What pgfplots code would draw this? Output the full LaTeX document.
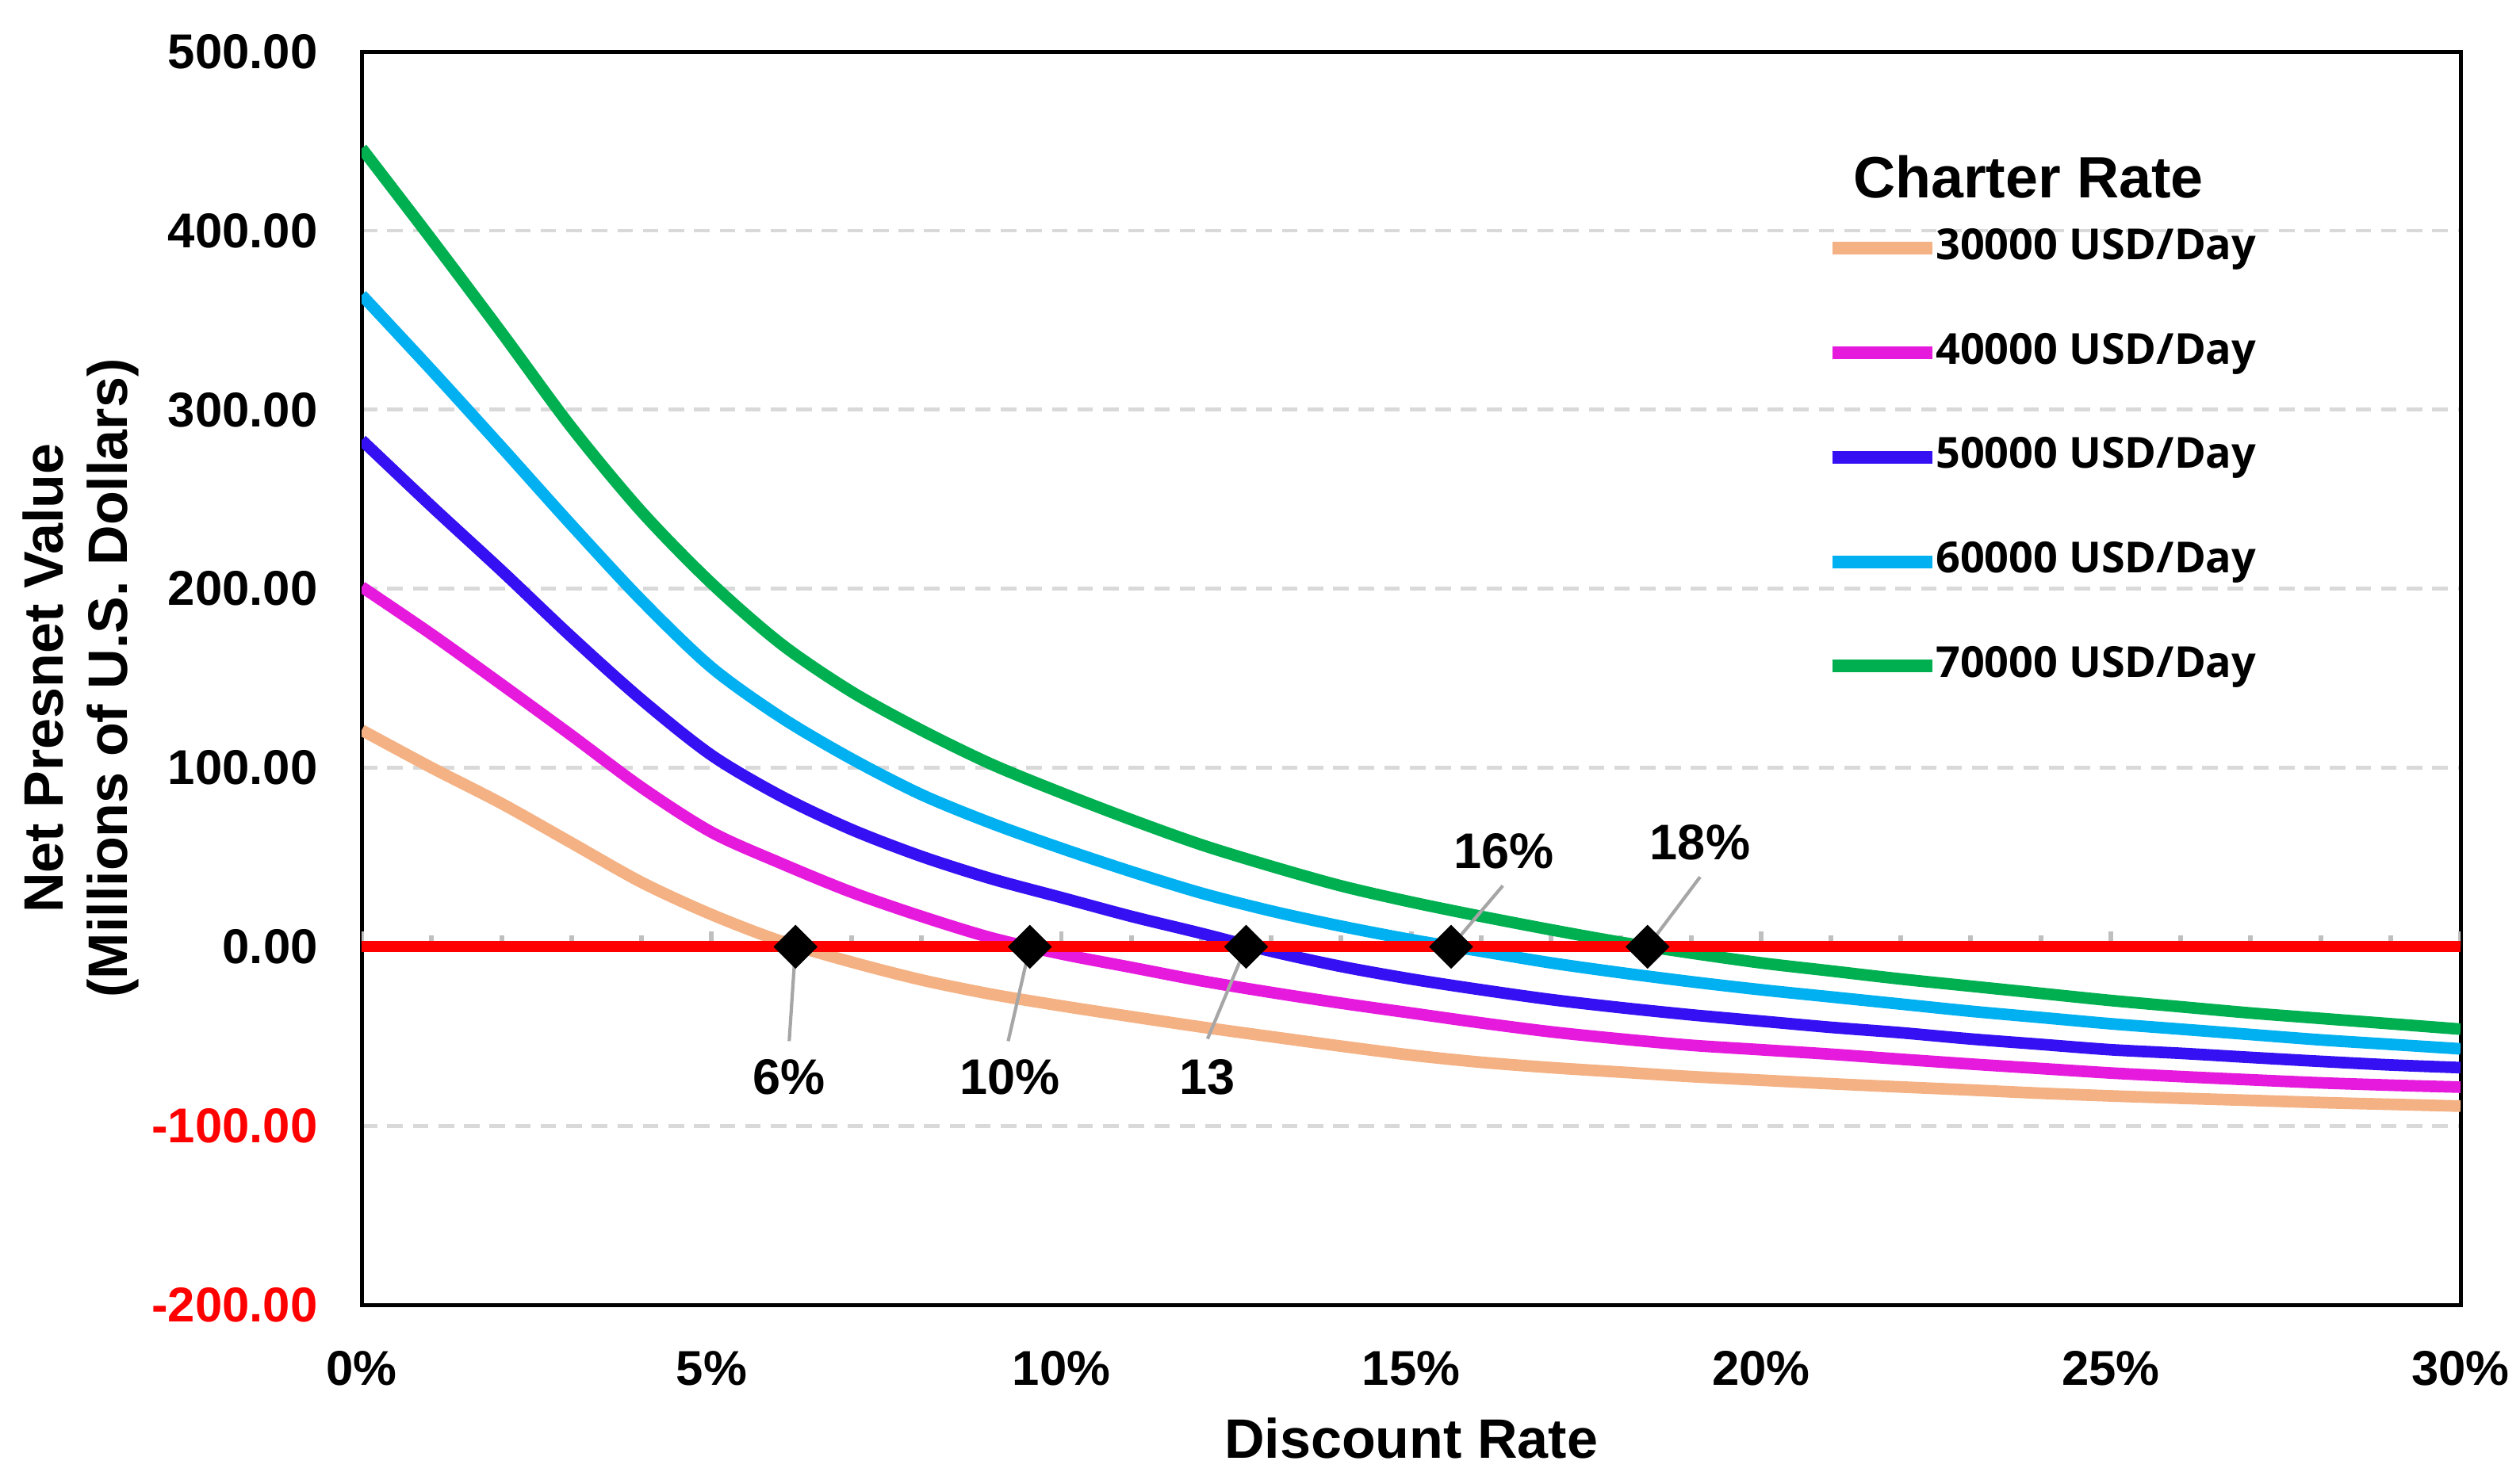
\documentclass[border=0pt]{standalone}
\usepackage{pgfplots}
\pgfplotsset{compat=1.18}
\usepackage{pgfplotstable}
\usepackage{fontspec}
\setmainfont{Liberation Sans}
\newfontfamily\legfont{Open Sans}
\definecolor{cPeach}{HTML}{F4B183}
\definecolor{cMag}{HTML}{E61ADC}
\definecolor{cBlue}{HTML}{3510F2}
\definecolor{cCyan}{HTML}{00B0F0}
\definecolor{cGreen}{HTML}{00B050}
\definecolor{cGrid}{HTML}{D9D9D9}
\definecolor{cTick}{HTML}{BFBFBF}
\definecolor{cAnn}{HTML}{A6A6A6}

\pgfplotstableread{
r s30 s40 s50 s60 s70
0 121 201 283 364 446
1 100 174.5 246 322 395
2 80 146.5 210 279 343
3 58 118 173 235.5 290
4 36 89 138 193.5 243
5 18 64 107 156 203
6 3 46.5 84 128 169
7 -8.5 30.5 65.5 105 142.5
8 -18.5 17 50.5 85 121
9 -26.5 5 38 69 102
10 -33 -4 27.5 55 86
11 -39 -11.5 17 42 71
12 -44.8 -19 7.5 30 57
13 -50.2 -25.5 -2.5 20 45
14 -55.5 -31.5 -11 11.5 34
15 -60.5 -37 -18 4 25
16 -64.5 -42.5 -24 -2.5 17
17 -67.5 -47.5 -29.5 -9 9.5
18 -70 -51.5 -34 -14.5 2.5
19 -72.5 -55 -38 -19.5 -3.5
20 -74.5 -57.5 -41.5 -24 -9
21 -76.5 -60 -45 -28 -13.5
22 -78.3 -62.8 -48 -32 -18
23 -80 -65.5 -51.5 -36 -22
24 -81.8 -68 -54.5 -39.5 -26
25 -83.3 -70.5 -57.5 -43 -30
26 -84.6 -72.5 -59.5 -46 -33.5
27 -85.8 -74.3 -61.8 -49 -37
28 -87 -76 -64 -52 -40
29 -88 -77.3 -66 -54.5 -43
30 -89 -78.4 -67.5 -57 -46
}\npv

\pgfplotstableread{
r v
6.2 0
9.55 0
12.64 0
15.57 0
18.38 0
}\irr

\begin{document}
\begin{tikzpicture}
\begin{axis}[
  name=ax,
  scale only axis,
  width=377.7pt, height=225.6pt,
  xmin=0, xmax=30, ymin=-200, ymax=500,
  xtick={0,5,...,30},
  xticklabels={0\%,5\%,10\%,15\%,20\%,25\%,30\%},
  ytick={-200,-100,...,500},
  yticklabels={\textcolor{red}{-200.00},\textcolor{red}{-100.00},0.00,100.00,200.00,300.00,400.00,500.00},
  major tick length=0pt,
  tick style={draw=none},
  ticklabel style={font=\fontsize{8.8}{10}\selectfont\bfseries},
  xticklabel shift=4.8pt,
  yticklabel shift=4.4pt,
  ymajorgrids=true,
  grid style={cGrid, line width=0.7pt, dash pattern=on 2.8pt off 1.8pt},
  axis line style={black, line width=0.7pt},
  legend style={draw=none, fill=none, at={(0.697,0.6763)}, anchor=west,
    font=\legfont\bfseries\fontsize{7.7}{9}\selectfont,
    row sep=8.8pt, inner sep=0pt,
    nodes={inner sep=1pt, text height=6pt, text depth=2pt},
    cells={anchor=west}},
  legend image code/.code={\draw[#1, line width=2.3pt] (0pt,0pt) -- (16.5pt,0pt);
     \draw[#1, line width=2.3pt, overlay] (16pt,0pt) -- (18pt,0pt);},
]
\pgfplotsinvokeforeach{1,2,3,4,6,7,8,9,11,12,13,14,16,17,18,19,21,22,23,24,26,27,28,29}{
  \draw[cTick, line width=0.85pt] (axis cs:#1,0) -- ([yshift=2.1pt]axis cs:#1,0);
}
\pgfplotsinvokeforeach{0,5,10,15,20,25,30}{
  \draw[cTick, line width=0.85pt] (axis cs:#1,0) -- ([yshift=2.7pt]axis cs:#1,0);
}
\addplot[cPeach, line width=2.1pt, smooth] table[x=r, y=s30] {\npv};
\addlegendentry{30000 USD/Day}
\addplot[cMag, line width=2.1pt, smooth] table[x=r, y=s40] {\npv};
\addlegendentry{40000 USD/Day}
\addplot[cBlue, line width=2.1pt, smooth] table[x=r, y=s50] {\npv};
\addlegendentry{50000 USD/Day}
\addplot[cCyan, line width=2.1pt, smooth] table[x=r, y=s60] {\npv};
\addlegendentry{60000 USD/Day}
\addplot[cGreen, line width=2.1pt, smooth] table[x=r, y=s70] {\npv};
\addlegendentry{70000 USD/Day}
\addplot[red, line width=2pt, forget plot] coordinates {(0,0) (30,0)};
\addplot[only marks, mark=square*, mark size=2.6pt, mark options={rotate=45, fill=black, draw=black}, forget plot] table[x=r, y=v] {\irr};

\draw[cAnn, line width=0.6pt] (axis cs:6.2,0) -- (axis cs:6.11,-52.7);
\draw[cAnn, line width=0.6pt] (axis cs:9.55,0) -- (axis cs:9.24,-52.7);
\draw[cAnn, line width=0.6pt] (axis cs:12.64,0) -- (axis cs:12.09,-51.4);
\draw[cAnn, line width=0.6pt] (axis cs:15.57,0) -- (axis cs:16.31,34.1);
\draw[cAnn, line width=0.6pt] (axis cs:18.38,0) -- (axis cs:19.13,39);
\node[font=\fontsize{9}{10}\selectfont\bfseries] at (axis cs:6.11,-73) {6\%};
\node[font=\fontsize{9}{10}\selectfont\bfseries] at (axis cs:9.26,-73) {10\%};
\node[font=\fontsize{9}{10}\selectfont\bfseries] at (axis cs:12.09,-73) {13};
\node[font=\fontsize{9}{10}\selectfont\bfseries] at (axis cs:16.33,53.6) {16\%};
\node[font=\fontsize{9}{10}\selectfont\bfseries] at (axis cs:19.13,58.4) {18\%};
\node[font=\fontsize{10.5}{12}\selectfont\bfseries] at (rel axis cs:0.794,0.900) {Charter Rate};
\end{axis}
\node[rotate=90, align=center, font=\fontsize{10}{11.6}\selectfont\bfseries] at ([xshift=-50.6pt]ax.west) {Net Presnet Value\\(Millions of U.S. Dollars)};
\node[font=\fontsize{10}{12}\selectfont\bfseries] at ([yshift=-24pt]ax.south) {Discount Rate};
\pgfresetboundingbox
\path ([shift={(-65.1pt,-30.7pt)}]ax.south west) rectangle ([shift={(10.7pt,9.3pt)}]ax.north east);
\end{tikzpicture}
\end{document}
